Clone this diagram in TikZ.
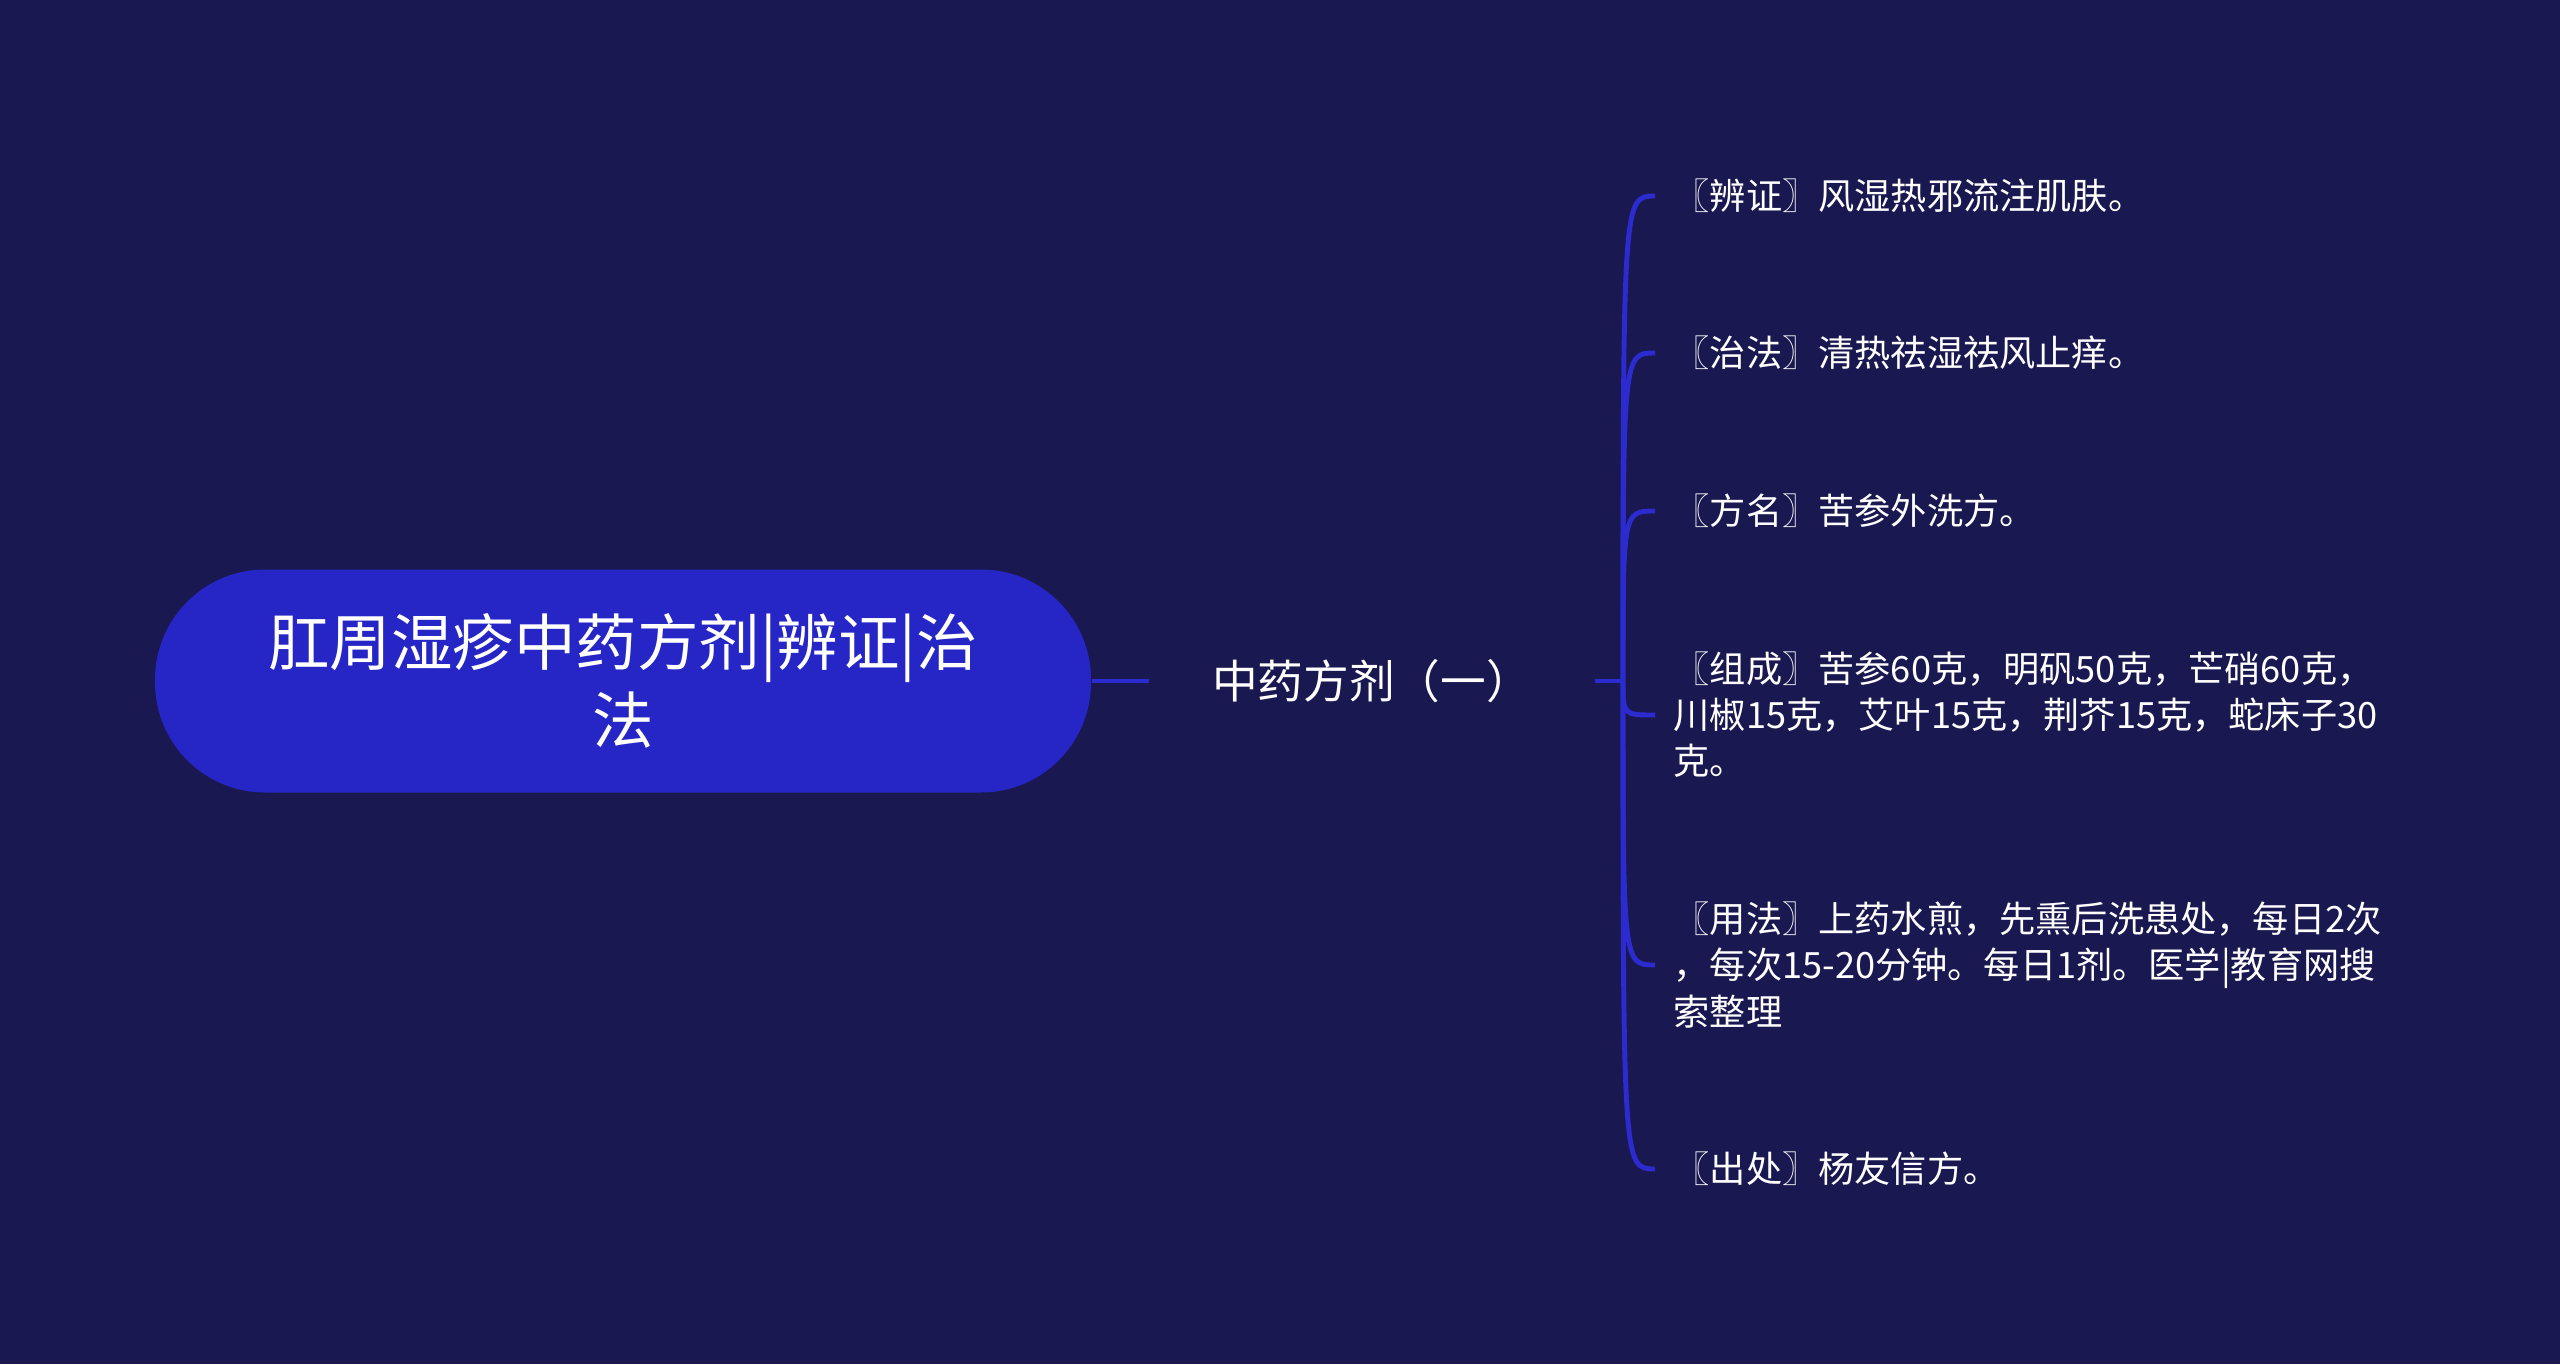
\documentclass[tikz,border=0pt]{standalone}
\usepackage{fontspec}
\setmainfont{Noto Sans CJK SC}
\usetikzlibrary{positioning}
\definecolor{navybg}{HTML}{1A1850}
\definecolor{rootblue}{HTML}{2626C6}
\definecolor{linkblue}{HTML}{2B2BD0}

\begin{document}
\begin{tikzpicture}[
    root/.style={fill=rootblue, rounded corners=1.1cm, minimum width=9.36cm, minimum height=2.23cm, align=center, text=white, font=\fontsize{17.5}{22}\selectfont},
    topic/.style={inner xsep=0.62cm, text=white, font=\fontsize{13}{16}\selectfont},
    detail/.style={anchor=west, inner xsep=0.18cm, align=left, text=white, font=\fontsize{10.3}{13.1}\selectfont},
    link/.style={draw=linkblue, line width=1.4pt}
]

\fill[navybg] (0,0) rectangle (25.6,13.64);
\useasboundingbox (0,0) rectangle (25.6,13.64);

\node[root] (root) at (6.23, 6.83) {肛周湿疹中药方剂|辨证|治\\法};
\node[topic] (topic) at (13.72, 6.83) {中药方剂（一）};
\coordinate (fork) at (16.23, 6.83);

\node[detail] (bianzheng) at (16.55, 11.68) {〖辨证〗风湿热邪流注肌肤。};
\node[detail] (zhifa) at (16.55, 10.11) {〖治法〗清热祛湿祛风止痒。};
\node[detail] (fangming) at (16.55, 8.53) {〖方名〗苦参外洗方。};
\node[detail] (zucheng) at (16.55, 6.49) {〖组成〗苦参60克，明矾50克，芒硝60克，\\川椒15克，艾叶15克，荆芥15克，蛇床子30\\克。};
\node[detail] (yongfa) at (16.55, 3.99) {〖用法〗上药水煎，先熏后洗患处，每日2次\\，每次15-20分钟。每日1剂。医学|教育网搜\\索整理};
\node[detail] (chuchu) at (16.55, 1.95) {〖出处〗杨友信方。};

\draw[link] (root.east) -- (topic.west);
\draw[link] (topic.east) -- (fork);

\draw[link] (fork) .. controls (fork |- bianzheng.west) .. (bianzheng.west);
\draw[link] (fork) .. controls (fork |- zhifa.west) .. (zhifa.west);
\draw[link] (fork) .. controls (fork |- fangming.west) .. (fangming.west);
\draw[link] (fork) .. controls (fork |- zucheng.west) .. (zucheng.west);
\draw[link] (fork) .. controls (fork |- yongfa.west) .. (yongfa.west);
\draw[link] (fork) .. controls (fork |- chuchu.west) .. (chuchu.west);

\end{tikzpicture}
\end{document}
